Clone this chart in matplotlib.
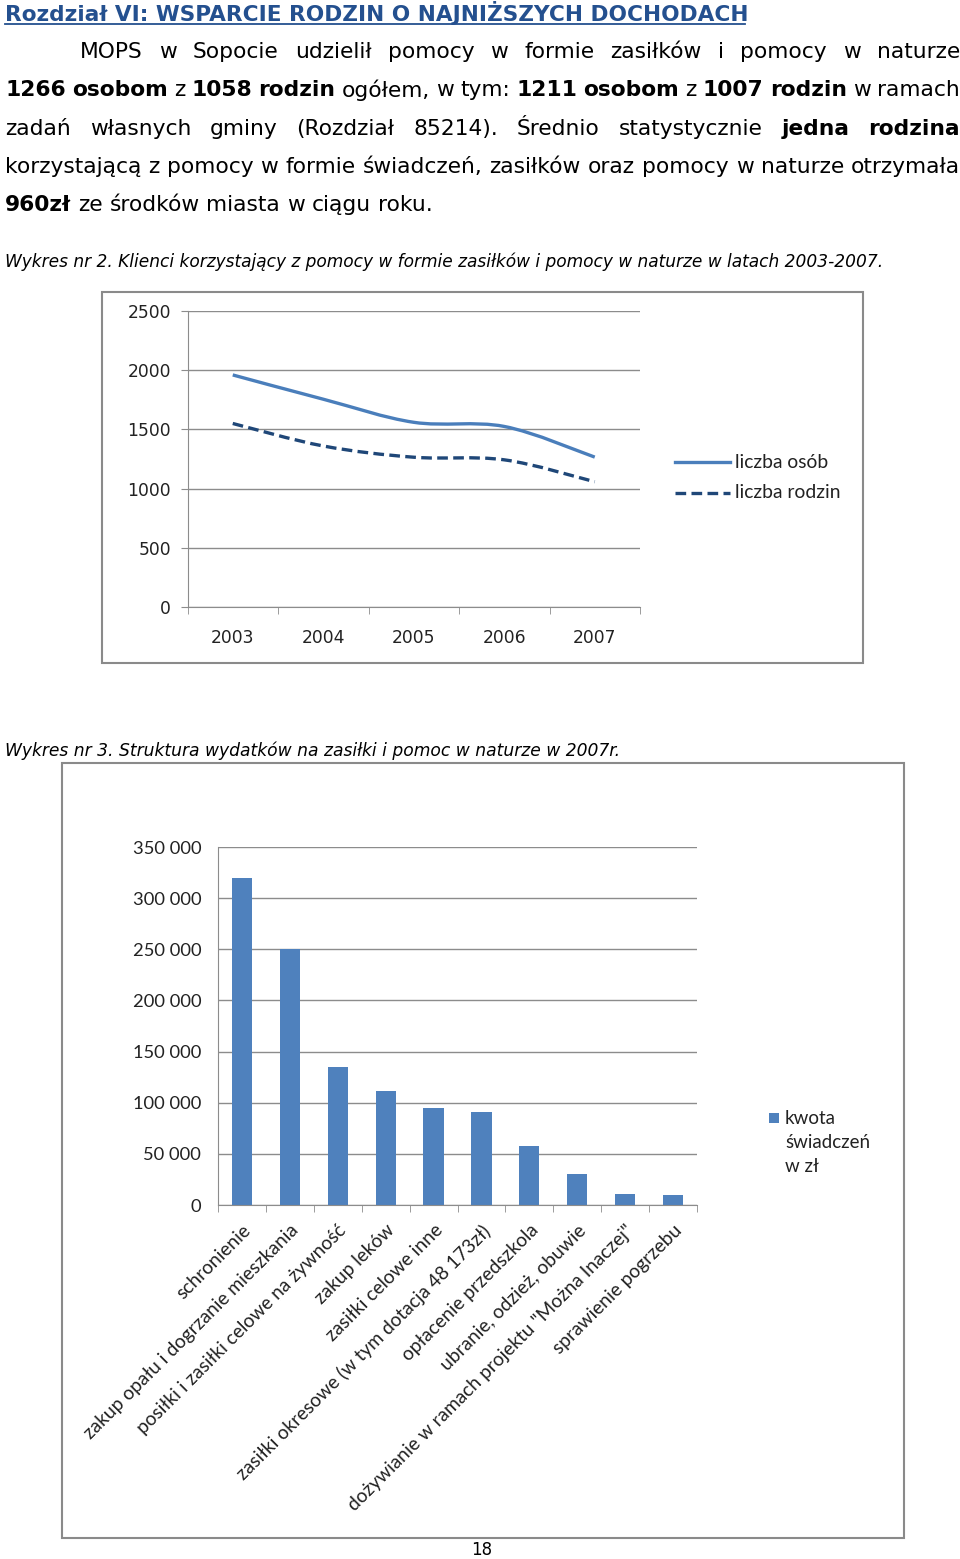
import matplotlib
matplotlib.use("Agg")
import matplotlib.pyplot as plt
from matplotlib.path import Path
from matplotlib.patches import PathPatch, Rectangle
from matplotlib.lines import Line2D
import numpy as np

# --- data ---
years = ["2003", "2004", "2005", "2006", "2007"]
liczba_osob = [1960, 1755, 1560, 1525, 1266]
liczba_rodzin = [1550, 1360, 1265, 1243, 1058]

kategorie = ["schronienie",
             "zakup opału i dogrzanie mieszkania",
             "posiłki i zasiłki celowe na żywność",
             "zakup leków",
             "zasiłki celowe inne",
             "zasiłki okresowe (w tym dotacja 48 173zł)",
             "opłacenie przedszkola",
             "ubranie, odzież, obuwie",
             "dożywianie w ramach projektu \"Można Inaczej\"",
             "sprawienie pogrzebu"]
kwoty = [320000, 250000, 135000, 111000, 94500, 90700, 58000, 30500, 10700, 9800]

W, H = 960, 1559
fig = plt.figure(figsize=(W / 100, H / 100), dpi=100)
renderer = fig.canvas.get_renderer()

BODY = "DejaVu Sans"
CAL = "Lato"


def fy(y):
    return 1 - y / H


def width_px(t):
    return t.get_window_extent(renderer).width


def fit_text(x, y, s, target_w, **kw):
    t = fig.text(x / W, fy(y), s, va="center", ha="left", fontsize=12, **kw)
    t.set_fontsize(12 * target_w / width_px(t))
    return t


# --- header text ---
title = fit_text(5, 13, "Rozdział VI: WSPARCIE RODZIN O NAJNIŻSZYCH DOCHODACH", 740,
                 family=BODY, fontweight="bold", color="#24508f")
fig.add_artist(Line2D([5 / W, 745 / W], [fy(24), fy(24)], color="#24508f", lw=1.3))

last = fig.text(0, 0, "960zł ze środków miasta w ciągu roku.", fontsize=12, family=BODY)
FS = 12 * 419 / width_px(last)
last.remove()

lines = [
    (80, [("MOPS w Sopocie udzielił pomocy w formie zasiłków i pomocy w naturze", False)], True),
    (5, [("1266 osobom", True), ("z", False), ("1058 rodzin", True), ("ogółem, w tym:", False),
         ("1211 osobom", True), ("z", False), ("1007 rodzin", True), ("w ramach", False)], True),
    (5, [("zadań własnych gminy (Rozdział 85214). Średnio statystycznie", False),
         ("jedna rodzina", True)], True),
    (5, [("korzystającą z pomocy w formie świadczeń, zasiłków oraz pomocy w naturze otrzymała", False)], True),
    (5, [("960zł", True), ("ze środków miasta w ciągu roku.", False)], False),
]
line_y = [52, 90, 129, 167, 205]

sp = fig.text(0, 0, "a a", fontsize=FS, family=BODY)
sp2 = fig.text(0, 0, "aa", fontsize=FS, family=BODY)
space_w = width_px(sp) - width_px(sp2)
sp.remove()
sp2.remove()

for (x0, tokens, justify), y in zip(lines, line_y):
    words = []
    for txt, bold in tokens:
        for w in txt.split():
            words.append((w, bold))
    arts = [fig.text(0, fy(y), w, fontsize=FS, family=BODY, va="center", ha="left",
                     fontweight="bold" if b else "normal") for w, b in words]
    widths = [width_px(a) for a in arts]
    gap = (960 - x0 - sum(widths)) / (len(words) - 1) if justify else space_w
    x = x0
    for a, w in zip(arts, widths):
        a.set_x(x / W)
        x += w + gap

fit_text(5, 262, "Wykres nr 2. Klienci korzystający z pomocy w formie zasiłków i pomocy w naturze w latach 2003-2007.",
         879, family=BODY, style="italic")
fit_text(5, 751, "Wykres nr 3. Struktura wydatków na zasiłki i pomoc w naturze w 2007r.",
         613, family=BODY, style="italic")

# chart frames
fig.add_artist(Rectangle((102 / W, fy(663)), (863 - 102) / W, (663 - 292) / H,
                         fill=False, ec="#8a8a8a", lw=1.5, transform=fig.transFigure))
fig.add_artist(Rectangle((62 / W, fy(1538)), (904 - 62) / W, (1538 - 763) / H,
                         fill=False, ec="#8a8a8a", lw=1.5, transform=fig.transFigure))

GRID = "#8c8c8c"


def smooth_path(xs, ys):
    pts = np.column_stack([xs, ys]).astype(float)
    n = len(pts)
    verts = [pts[0]]
    codes = [Path.MOVETO]
    for i in range(n - 1):
        p0 = pts[max(i - 1, 0)]
        p1 = pts[i]
        p2 = pts[i + 1]
        p3 = pts[min(i + 2, n - 1)]
        c1 = p1 + (p2 - p0) / 6
        c2 = p2 - (p3 - p1) / 6
        verts += [c1, c2, p2]
        codes += [Path.CURVE4] * 3
    return Path(verts, codes)


# --- Wykres nr 2: line chart ---
ax1 = fig.add_axes([187.5 / W, fy(607), (640 - 187.5) / W, (607 - 311) / H])
ax1.set_xlim(-0.5, 4.5)
ax1.set_ylim(0, 2500)
ax1.set_yticks(np.arange(0, 2501, 500))
ax1.yaxis.grid(True, color=GRID, lw=1)
ax1.set_axisbelow(True)
ax1.set_xticks(range(5))
ax1.set_xticklabels(years)
ax1.set_xticks(np.arange(-0.5, 5, 1), minor=True)
ax1.tick_params(axis="x", which="major", length=0, pad=15.5)
ax1.tick_params(axis="x", which="minor", length=5, color=GRID, direction="out")
ax1.tick_params(axis="y", length=5, color=GRID, pad=7)
for lab in ax1.get_xticklabels() + ax1.get_yticklabels():
    lab.set_family(BODY)
    lab.set_fontsize(12.3)
    lab.set_color("#222222")
for s in ["top", "right"]:
    ax1.spines[s].set_visible(False)
for s in ["left", "bottom"]:
    ax1.spines[s].set_color(GRID)
xs = np.arange(len(years))
ax1.add_patch(PathPatch(smooth_path(xs, liczba_osob), fill=False, ec="#4a7ebb", lw=2.4))
ax1.add_patch(PathPatch(smooth_path(xs, liczba_rodzin), fill=False, ec="#1f4778", lw=2.4,
                        ls=(0, (3.2, 1.6))))

fig.add_artist(Line2D([675 / W, 730 / W], [fy(462), fy(462)], color="#4a7ebb", lw=2.4))
fig.add_artist(Line2D([675 / W, 730 / W], [fy(493), fy(493)], color="#1f4778", lw=2.4,
                      ls=(0, (3.2, 1.6))))
fit_text(735, 462, "liczba osób", 93, family=CAL, color="#222222")
fit_text(735, 493, "liczba rodzin", 105, family=CAL, color="#222222")

# --- Wykres nr 3: bar chart ---
ax2 = fig.add_axes([218 / W, fy(1205), (697 - 218) / W, (1205 - 847) / H])
n = len(kategorie)
ax2.bar(np.arange(n), kwoty, width=0.42, color="#4f81bd")
ax2.set_xlim(-0.5, n - 0.5)
ax2.set_ylim(0, 350000)
yt = np.arange(0, 350001, 50000)
ax2.set_yticks(yt)
ax2.set_yticklabels([f"{v:,}".replace(",", " ") for v in yt])
ax2.yaxis.grid(True, color=GRID, lw=1)
ax2.set_axisbelow(True)
ax2.set_xticks(np.arange(n))
ax2.set_xticklabels(kategorie, rotation=45, ha="right", rotation_mode="anchor")
ax2.set_xticks(np.arange(-0.5, n, 1), minor=True)
ax2.tick_params(axis="x", which="major", length=0, pad=12)
ax2.tick_params(axis="x", which="minor", length=5, color=GRID, direction="out")
ax2.tick_params(axis="y", length=0, pad=12)
for lab in ax2.get_yticklabels():
    lab.set_family(CAL)
    lab.set_fontsize(13.2)
    lab.set_color("#222222")
for lab in ax2.get_xticklabels():
    lab.set_family(CAL)
    lab.set_fontsize(13.8)
    lab.set_color("#222222")
for s in ["top", "right"]:
    ax2.spines[s].set_visible(False)
for s in ["left", "bottom"]:
    ax2.spines[s].set_color(GRID)

fig.add_artist(Rectangle((769 / W, fy(1123)), 10 / W, 10 / H, fc="#4f81bd", ec="none",
                         transform=fig.transFigure))
for txt, y in zip(["kwota", "świadczeń", "w zł"], [1118, 1142, 1166]):
    fig.text(785 / W, fy(y), txt, family=CAL, fontsize=13.5, va="center", ha="left", color="#222222")

fig.text(482 / W, fy(1550), "18", family=BODY, fontsize=12, ha="center", va="center")

fig.savefig("out.png", dpi=100)
